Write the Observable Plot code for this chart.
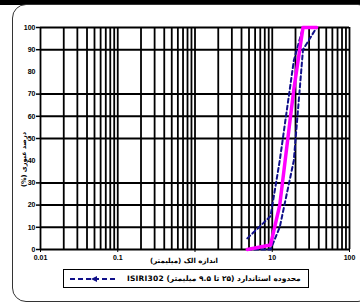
<!DOCTYPE html>
<html>
<head>
<meta charset="utf-8">
<script src="https://cdn.jsdelivr.net/npm/d3@7"></script>
<script src="https://cdn.jsdelivr.net/npm/@observablehq/plot@0.6"></script>
<style>
  html, body { margin: 0; padding: 0; background: #fff; }
  #wrap { position: relative; width: 360px; height: 304px; overflow: hidden; background: #fff; }
  #topbar { position: absolute; left: 0; top: 0; width: 360px; height: 5px; background: #000; }
  #frame { position: absolute; left: 12px; top: 4px; width: 360px; height: 298px; border: 1px solid #333; border-radius: 14px; box-sizing: border-box; }
  #chart { position: absolute; left: 0; top: 0; }
  #ytitle { position: absolute; left: 18px; top: 110px; width: 12px; height: 100px;
            writing-mode: vertical-rl; transform: rotate(180deg); text-align: center; white-space: nowrap;
            font-family: "DejaVu Sans", sans-serif; font-size: 6.5px; font-weight: bold; color: #000; line-height: 12px; }
  #legend { position: absolute; left: 63px; top: 269px; width: 246px; height: 19px; border: 1.5px solid #000; box-sizing: border-box; background: #fff;
            display: flex; align-items: center; font-family: "DejaVu Sans", sans-serif; font-size: 7.5px; font-weight: bold; color: #000; }
  #legend svg { margin-left: 5px; flex: none; }
  #legend .txt { margin-left: 8px; direction: rtl; unicode-bidi: embed; white-space: nowrap; letter-spacing: 0.2px; }
</style>
</head>
<body>
<div id="wrap">
  <div id="topbar"></div>
  <div id="frame"></div>
  <div id="chart"></div>
  <div id="ytitle" dir="rtl"></div>
  <div id="legend">
    <svg width="50" height="8"><line x1="1" y1="4" x2="49" y2="4" stroke="#10108a" stroke-width="2" stroke-dasharray="5,3"></line><path d="M22,4 L28,1 L28,7 Z" fill="#10108a"></path></svg>
    <span class="txt" id="legtxt"></span>
  </div>
</div>
<script>
// Data (sieve sizes in mm, percent passing)
const sieves      = [4.75, 9.5, 12.5, 19, 25, 37.5];
const passing     = [0, 2, 20, 72, 100, 100];
const lowerLimit  = [0, 0, 10, 40, 90, 100];
const upperLimit  = [5, 15, 40, 85, 100, 100];

// Axis ticks & labels
const yTicks      = [0, 10, 20, 30, 40, 50, 60, 70, 80, 90, 100];
const yGridLines  = [0, 10, 20, 30, 50, 60, 70, 90, 100];
const xTicks      = [0.01, 0.1, 1, 10, 100];
const xTickLabels = ["0.01", "0.1", "", "10", "100"];
const decades     = [0.01, 0.1, 1, 10];
const multipliers = [1, 2, 3, 4, 5, 6, 7, 8, 9];
const xTitle      = "اندازه الک (میلیمتر)";
const yTitle      = "درصد عبوری (%)";
const legendLabel = "محدوده استاندارد (۲۵ تا ۹.۵ میلیمتر) ISIRI302";

const xGrid = decades.flatMap(d => multipliers.map(m => +(d * m).toPrecision(3))).concat([100]);

const table = (ys) => sieves.map((s, i) => ({size: s, pct: ys[i]}));

document.getElementById("legtxt").textContent = legendLabel;
document.getElementById("ytitle").textContent = yTitle;

const chart = Plot.plot({
  width: 360,
  height: 304,
  marginLeft: 40,
  marginRight: 11,
  marginTop: 27,
  marginBottom: 55,
  x: {type: "log", domain: [0.01, 100]},
  y: {domain: [0, 100]},
  style: {background: "transparent", fontFamily: "'Liberation Sans', Arial, sans-serif", overflow: "visible"},
  marks: [
    Plot.ruleX(xGrid, {stroke: "#000", strokeWidth: 1.8}),
    Plot.ruleY(yGridLines, {stroke: "#000", strokeWidth: 2}),
    Plot.axisY({ticks: yGridLines, tickSize: 4, tickPadding: 1, strokeWidth: 1.5, tickFormat: () => "", label: null}),
    Plot.axisY({ticks: yTicks, tickSize: 0, tickPadding: 5, fontSize: 7, fontWeight: "bold", label: null}),
    Plot.axisX({ticks: xTicks, tickSize: 3, tickPadding: 3, fontSize: 7, fontWeight: "bold", label: null,
                tickFormat: d => xTickLabels[xTicks.indexOf(d)]}),
    Plot.text([xTitle], {frameAnchor: "bottom", dx: -11, dy: 13, fontSize: 7, fontWeight: "bold", fontFamily: "DejaVu Sans", fill: "#000"}),
    Plot.line(table(upperLimit), {x: "size", y: "pct", stroke: "#10108a", strokeWidth: 2, strokeDasharray: "4,3"}),
    Plot.line(table(lowerLimit), {x: "size", y: "pct", stroke: "#10108a", strokeWidth: 2, strokeDasharray: "4,3"}),
    Plot.line(table(passing), {x: "size", y: "pct", stroke: "#ff00ff", strokeWidth: 3.5})
  ]
});
document.getElementById("chart").appendChild(chart);
</script>
</body>
</html>
